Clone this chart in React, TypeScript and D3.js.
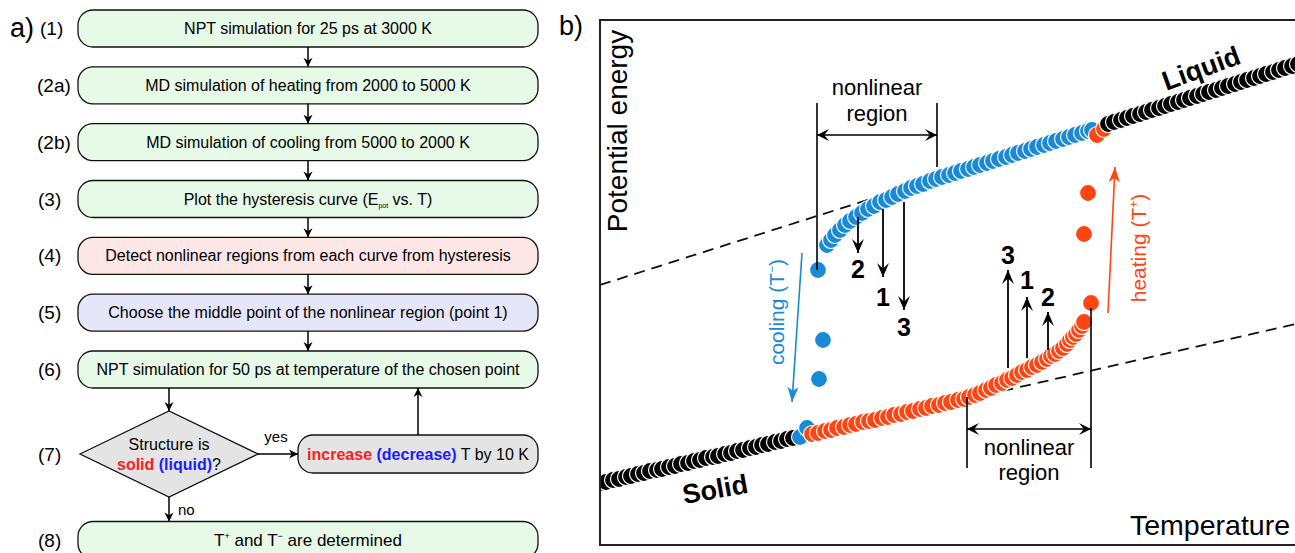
import React from 'react';
import * as d3 from 'd3';

const W = 1295;
const H = 553;
const FONT = "'Liberation Sans', Arial, Helvetica, sans-serif";

// ---------------- Panel a: flowchart content ----------------
const stepLabels = ['(1)', '(2a)', '(2b)', '(3)', '(4)', '(5)', '(6)', '(7)', '(8)'];
const boxTexts = [
  'NPT simulation for 25 ps at 3000 K',
  'MD simulation of heating from 2000 to 5000 K',
  'MD simulation of cooling from 5000 to 2000 K',
  'Plot the hysteresis curve (E',
  'Detect nonlinear regions from each curve from hysteresis',
  'Choose the middle point of the nonlinear region (point 1)',
  'NPT simulation for 50 ps at temperature of the chosen point',
];
const boxKinds = ['green', 'green', 'green', 'green', 'pink', 'lavender', 'green'];
const kindFill: Record<string, string> = {
  green: '#e7f9e7',
  pink: '#fde6e6',
  lavender: '#e6e6fa',
  gray: '#e4e4e4',
};

// ---------------- Panel b: schematic hysteresis data (T, E in arbitrary units) ----------------
const solidBlack: [number, number][] = [
  [0, 62], [6, 63], [13, 65], [19, 66], [26, 68], [31, 69], [38, 71], [44, 72], [50, 74], [57, 75],
  [62, 76], [69, 78], [75, 79], [81, 81], [88, 82], [94, 84], [100, 85], [106, 87], [113, 88], [118, 89],
  [125, 91], [131, 92], [137, 94], [143, 95], [150, 97], [156, 98], [162, 100], [168, 101], [175, 103], [181, 104],
  [187, 106], [193, 107],
];
const blueOnSolid: [number, number][] = [[200, 108], [207, 117]];
const heatingOrange: [number, number][] = [
  [212, 111], [218, 112], [225, 114], [231, 115], [237, 117], [244, 118], [250, 120], [256, 121], [263, 123], [269, 124],
  [275, 125], [282, 127], [288, 128], [294, 130], [301, 131], [307, 133], [313, 134], [320, 136], [326, 137], [332, 139],
  [339, 140], [345, 142], [351, 143], [358, 145], [364, 146], [369, 148], [375, 150], [380, 152], [386, 155], [391, 157],
  [396, 160], [402, 162], [407, 165], [412, 167], [417, 170], [422, 173], [427, 175], [432, 178], [437, 180], [442, 183],
  [447, 186], [451, 189], [455, 191], [459, 194], [463, 197], [467, 201], [470, 205], [473, 208], [476, 211], [479, 215],
  [482, 219], [484, 223],
];
const heatingJumps: [number, number][] = [[491, 242], [484, 311], [488, 352]];
const orangeOnLiquid: [number, number][] = [[497, 410], [504, 416]];
const coolingBlue: [number, number][] = [
  [227, 300], [231, 305], [235, 310], [240, 315], [245, 320], [250, 324], [256, 328], [262, 332], [268, 336], [274, 339],
  [280, 343], [286, 345], [292, 348], [298, 351], [305, 354], [311, 357], [317, 359], [323, 361], [330, 364], [336, 366],
  [342, 368], [349, 370], [355, 372], [361, 374], [368, 376], [374, 378], [380, 380], [387, 382], [393, 384], [399, 386],
  [406, 388], [412, 390], [418, 392], [425, 394], [431, 396], [437, 398], [444, 400], [450, 402], [456, 404], [463, 406],
  [469, 408], [475, 410], [482, 412], [488, 414], [492, 415],
];
const coolingJumps: [number, number][] = [[218, 275], [223, 205], [219, 166]];
const liquidBlack: [number, number][] = [
  [508, 421], [514, 423], [521, 425], [527, 427], [533, 429], [540, 431], [546, 433], [552, 435], [559, 437], [565, 439],
  [571, 441], [578, 443], [584, 445], [590, 447], [597, 449], [603, 451], [609, 453], [616, 455], [622, 457], [628, 459],
  [635, 461], [641, 463], [647, 465], [654, 467], [660, 469], [666, 471], [673, 473], [679, 475], [685, 477], [692, 479],
  [698, 481],
];
const liquidFit: [number, number][] = [[0, 260], [305, 357]];
const solidFit: [number, number][] = [[385, 150], [700, 222]];

// annotation anchors (data units)
const coolRegion = { left: 217, right: 337, top: 442, arrowE: 410, leftBottom: 275, rightBottom: 378, textT: 277, textE: [458, 432] };
const heatRegion = { left: 367, right: 491, bottom: 77, arrowE: 116, leftTop: 148, rightTop: 237, textT: 429, textE: [98, 73] };
const coolSteps = [
  { label: '2', T: 258, from: 328, to: 292, labelE: 276 },
  { label: '1', T: 283, from: 336, to: 268, labelE: 248 },
  { label: '3', T: 304, from: 343, to: 235, labelE: 218 },
];
const heatSteps = [
  { label: '3', T: 408, from: 177, to: 275, labelE: 290 },
  { label: '1', T: 427, from: 187, to: 248, labelE: 265 },
  { label: '2', T: 448, from: 195, to: 233, labelE: 248 },
];
const coolTrend: [number, number][] = [[202, 292], [192, 143]];
const heatTrend: [number, number][] = [[508, 232], [515, 378]];

const BLUE = '#1a8ad6';
const ORANGE = '#ff4514';
const RED = '#ff1c1c';
const DBLUE = '#1c1cff';

function headPath(tx: number, ty: number, dx: number, dy: number, len: number, half: number, notch: number) {
  const n = Math.hypot(dx, dy);
  const ux = dx / n, uy = dy / n;
  const bx = tx - ux * len, by = ty - uy * len;
  const px = -uy, py = ux;
  const nx = tx - ux * len * notch, ny = ty - uy * len * notch;
  return `M${tx},${ty}L${bx + px * half},${by + py * half}L${nx},${ny}L${bx - px * half},${by - py * half}Z`;
}

function Arrow({ x1, y1, x2, y2, color = '#000', sw = 1.5, len = 9, half = 4.5, notch = 0.7, both = false }: any) {
  return (
    <g>
      <line x1={x1} y1={y1} x2={x2} y2={y2} stroke={color} strokeWidth={sw} />
      <path d={headPath(x2, y2, x2 - x1, y2 - y1, len, half, notch)} fill={color} />
      {both && <path d={headPath(x1, y1, x1 - x2, y1 - y2, len, half, notch)} fill={color} />}
    </g>
  );
}

function Flowchart() {
  const boxL = 78, boxR = 538, boxH = 37;
  const cx = (boxL + boxR) / 2;
  const rowY = d3.scaleLinear().domain([0, 6]).range([28.5, 369.5]);
  const diamondY = 454;
  const finalY = 540;
  const dCx = 169, dHalfW = 89, dHalfH = 43;
  const incL = 298, incR = 538, incH = 38;
  const labelY = [...boxTexts.map((_, i) => rowY(i)), diamondY, finalY];
  const labelX = [40, 37, 37, 38, 38, 38, 38, 38, 38];
  return (
    <g fontFamily={FONT}>
      <text x={10} y={37} fontSize={27}>a)</text>
      {stepLabels.map((s, i) => (
        <text key={s} x={labelX[i]} y={labelY[i]} dy="0.35em" fontSize={19}>{s}</text>
      ))}
      {boxTexts.map((t, i) => {
        const yc = rowY(i);
        return (
          <g key={i}>
            <rect x={boxL} y={yc - boxH / 2} width={boxR - boxL} height={boxH} rx={15} ry={15}
              fill={kindFill[boxKinds[i]]} stroke="#111" strokeWidth={1.3} />
            <text x={cx} y={yc} dy="0.35em" textAnchor="middle" fontSize={16}>
              {i === 3 ? (
                <>
                  {t}
                  <tspan fontSize={7} dy={3}>pot</tspan>
                  <tspan dy={-3}> vs. T)</tspan>
                </>
              ) : t}
            </text>
            {i < boxTexts.length - 1 && (
              <Arrow x1={cx} y1={yc + boxH / 2} x2={cx} y2={rowY(i + 1) - boxH / 2} />
            )}
          </g>
        );
      })}
      {/* from (6) to decision */}
      <Arrow x1={dCx} y1={rowY(6) + boxH / 2} x2={dCx} y2={diamondY - dHalfH} />
      <path d={`M${dCx - dHalfW},${diamondY}L${dCx},${diamondY - dHalfH}L${dCx + dHalfW},${diamondY}L${dCx},${diamondY + dHalfH}Z`}
        fill={kindFill.gray} stroke="#111" strokeWidth={1.3} />
      <text x={dCx} y={diamondY - 10} dy="0.35em" textAnchor="middle" fontSize={16}>Structure is</text>
      <text x={dCx} y={diamondY + 10} dy="0.35em" textAnchor="middle" fontSize={16}>
        <tspan fill={RED} fontWeight="bold">solid</tspan>
        <tspan fill={DBLUE} fontWeight="bold"> (liquid)</tspan>
        <tspan>?</tspan>
      </text>
      <Arrow x1={dCx + dHalfW} y1={diamondY} x2={incL} y2={diamondY} />
      <text x={276} y={diamondY - 12} textAnchor="middle" fontSize={15}>yes</text>
      <rect x={incL} y={diamondY - incH / 2} width={incR - incL} height={incH} rx={15} ry={15}
        fill={kindFill.gray} stroke="#111" strokeWidth={1.3} />
      <text x={(incL + incR) / 2} y={diamondY} dy="0.35em" textAnchor="middle" fontSize={16}>
        <tspan fill={RED} fontWeight="bold">increase</tspan>
        <tspan fill={DBLUE} fontWeight="bold"> (decrease)</tspan>
        <tspan> T by 10 K</tspan>
      </text>
      <Arrow x1={(incL + incR) / 2} y1={diamondY - incH / 2} x2={(incL + incR) / 2} y2={rowY(6) + boxH / 2} />
      <Arrow x1={dCx} y1={diamondY + dHalfH} x2={dCx} y2={finalY - boxH / 2} />
      <text x={178} y={diamondY + 61} fontSize={15}>no</text>
      <rect x={boxL} y={finalY - boxH / 2} width={boxR - boxL} height={boxH} rx={15} ry={15}
        fill={kindFill.green} stroke="#111" strokeWidth={1.3} />
      <text x={cx} y={finalY} dy="0.35em" textAnchor="middle" fontSize={17}>
        T<tspan fontSize={9} dy={-7}>+</tspan>
        <tspan dy={7}> and T</tspan>
        <tspan fontSize={9} dy={-7}>−</tspan>
        <tspan dy={7}> are determined</tspan>
      </text>
    </g>
  );
}

function Hysteresis() {
  const x = d3.scaleLinear().domain([0, 700]).range([600, 1300]);
  const y = d3.scaleLinear().domain([0, 525]).range([545, 20]);
  const line = d3.line<[number, number]>().x((d) => x(d[0])).y((d) => y(d[1]));
  const R = 8.5;
  const dots = (data: [number, number][], color: string, key: string) =>
    data.map((d, i) => (
      <circle key={key + i} cx={x(d[0])} cy={y(d[1])} r={R} fill={color} stroke="#fff" strokeWidth={1.2} />
    ));
  return (
    <g fontFamily={FONT}>
      <defs>
        <clipPath id="frameClip">
          <rect x={x(0)} y={y(525)} width={x(700) - x(0)} height={y(0) - y(525)} />
        </clipPath>
      </defs>
      <text x={559} y={35} fontSize={27}>b)</text>
      <g clipPath="url(#frameClip)">
        <path d={line(liquidFit) || ''} fill="none" stroke="#111" strokeWidth={1.8} strokeDasharray="11 7" />
        <path d={line(solidFit) || ''} fill="none" stroke="#111" strokeWidth={1.8} strokeDasharray="11 7" />
        {dots(solidBlack, '#000', 's')}
        {dots(coolingBlue, BLUE, 'c')}
        {dots(coolingJumps, BLUE, 'cj')}
        {dots(blueOnSolid, BLUE, 'bs')}
        {dots(heatingOrange, ORANGE, 'h')}
        {dots(heatingJumps, ORANGE, 'hj')}
        {dots(orangeOnLiquid, ORANGE, 'ol')}
        {dots(liquidBlack, '#000', 'l')}
      </g>
      <rect x={x(0)} y={y(525)} width={x(700) - x(0)} height={y(0) - y(525)} fill="none" stroke="#222" strokeWidth={2} />

      {/* upper nonlinear region */}
      <line x1={x(coolRegion.left)} x2={x(coolRegion.left)} y1={y(coolRegion.top)} y2={y(coolRegion.leftBottom)} stroke="#000" strokeWidth={1.6} />
      <line x1={x(coolRegion.right)} x2={x(coolRegion.right)} y1={y(coolRegion.top)} y2={y(coolRegion.rightBottom)} stroke="#000" strokeWidth={1.6} />
      <Arrow x1={x(coolRegion.left)} y1={y(coolRegion.arrowE)} x2={x(coolRegion.right)} y2={y(coolRegion.arrowE)}
        sw={1.6} len={12} half={6} notch={0.6} both />
      <text x={x(coolRegion.textT)} y={y(coolRegion.textE[0])} dy="0.35em" textAnchor="middle" fontSize={22}>nonlinear</text>
      <text x={x(coolRegion.textT)} y={y(coolRegion.textE[1])} dy="0.35em" textAnchor="middle" fontSize={22}>region</text>

      {/* lower nonlinear region */}
      <line x1={x(heatRegion.left)} x2={x(heatRegion.left)} y1={y(heatRegion.leftTop)} y2={y(heatRegion.bottom)} stroke="#000" strokeWidth={1.6} />
      <line x1={x(heatRegion.right)} x2={x(heatRegion.right)} y1={y(heatRegion.rightTop)} y2={y(heatRegion.bottom)} stroke="#000" strokeWidth={1.6} />
      <Arrow x1={x(heatRegion.left)} y1={y(heatRegion.arrowE)} x2={x(heatRegion.right)} y2={y(heatRegion.arrowE)}
        sw={1.6} len={12} half={6} notch={0.6} both />
      <text x={x(heatRegion.textT)} y={y(heatRegion.textE[0])} dy="0.35em" textAnchor="middle" fontSize={22}>nonlinear</text>
      <text x={x(heatRegion.textT)} y={y(heatRegion.textE[1])} dy="0.35em" textAnchor="middle" fontSize={22}>region</text>

      {/* step arrows */}
      {coolSteps.map((s) => (
        <g key={'cs' + s.label}>
          <Arrow x1={x(s.T)} y1={y(s.from)} x2={x(s.T)} y2={y(s.to)} sw={1.8} len={14} half={6} notch={0.6} />
          <text x={x(s.T)} y={y(s.labelE)} dy="0.35em" textAnchor="middle" fontSize={25} fontWeight="bold">{s.label}</text>
        </g>
      ))}
      {heatSteps.map((s) => (
        <g key={'hs' + s.label}>
          <Arrow x1={x(s.T)} y1={y(s.from)} x2={x(s.T)} y2={y(s.to)} sw={1.8} len={14} half={6} notch={0.6} />
          <text x={x(s.T)} y={y(s.labelE)} dy="0.35em" textAnchor="middle" fontSize={25} fontWeight="bold">{s.label}</text>
        </g>
      ))}

      {/* cooling / heating trend arrows */}
      <Arrow x1={x(coolTrend[0][0])} y1={y(coolTrend[0][1])} x2={x(coolTrend[1][0])} y2={y(coolTrend[1][1])}
        color={BLUE} sw={1.6} len={15} half={5.5} notch={0.75} />
      <text transform={`translate(777,312) rotate(-90)`} textAnchor="middle" dy="0.35em" fontSize={21} fill={BLUE}>
        cooling (T<tspan fontSize={12} dy={-8}>−</tspan><tspan dy={8}>)</tspan>
      </text>
      <Arrow x1={x(heatTrend[0][0])} y1={y(heatTrend[0][1])} x2={x(heatTrend[1][0])} y2={y(heatTrend[1][1])}
        color={ORANGE} sw={1.6} len={15} half={5.5} notch={0.75} />
      <text transform={`translate(1139,248) rotate(-90)`} textAnchor="middle" dy="0.35em" fontSize={21} fill={ORANGE}>
        heating (T<tspan fontSize={12} dy={-8}>+</tspan><tspan dy={8}>)</tspan>
      </text>

      {/* phase labels */}
      <text transform="translate(715,489) rotate(-10)" textAnchor="middle" dy="0.35em" fontSize={27} fontWeight="bold">Solid</text>
      <text transform="translate(1201,68) rotate(-20)" textAnchor="middle" dy="0.35em" fontSize={27} fontWeight="bold">Liquid</text>

      {/* axis titles */}
      <text transform="translate(617,131) rotate(-90)" textAnchor="middle" dy="0.35em" fontSize={28}>Potential energy</text>
      <text x={1290} y={535} textAnchor="end" fontSize={28.5}>Temperature</text>
    </g>
  );
}

export default function App() {
  return (
    <svg width={W} height={H} viewBox={`0 0 ${W} ${H}`}
      style={{ position: 'fixed', left: 0, top: 0, background: '#fff', display: 'block' }}>
      <rect x={0} y={0} width={W} height={H} fill="#fff" />
      <Flowchart />
      <Hysteresis />
    </svg>
  );
}
